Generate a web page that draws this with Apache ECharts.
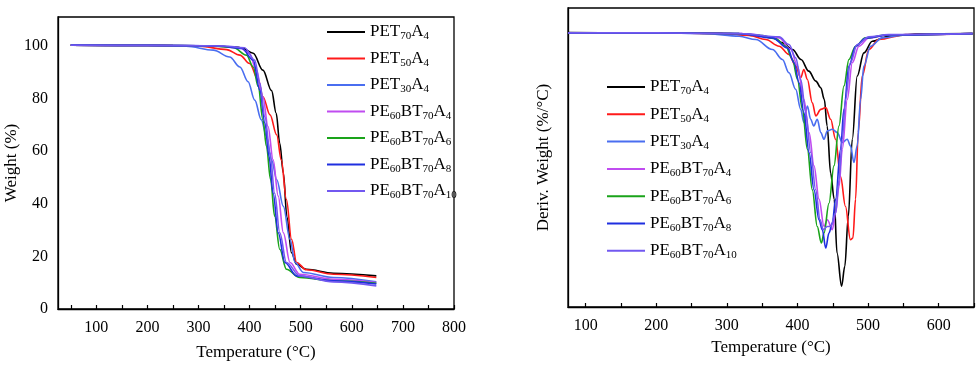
<!DOCTYPE html>
<html>
<head>
<meta charset="utf-8">
<script src="https://cdn.jsdelivr.net/npm/echarts@6/dist/echarts.min.js"></script>
<style>html,body{margin:0;padding:0;background:#fff}#c{width:979px;height:367px}</style>
</head>
<body>
<div id="c"></div>
<script>
// ---------- DATA ----------
const names = ['PET70A4','PET50A4','PET30A4','PE60BT70A4','PE60BT70A6','PE60BT70A8','PE60BT70A10'];
const legendRich = {
  'PET70A4':'PET{s|70}A{s|4}',
  'PET50A4':'PET{s|50}A{s|4}',
  'PET30A4':'PET{s|30}A{s|4}',
  'PE60BT70A4':'PE{s|60}BT{s|70}A{s|4}',
  'PE60BT70A6':'PE{s|60}BT{s|70}A{s|6}',
  'PE60BT70A8':'PE{s|60}BT{s|70}A{s|8}',
  'PE60BT70A10':'PE{s|60}BT{s|70}A{s|10}'
};
const colors = ['#000000','#ff1a1a','#4a6ef0','#c04cf0','#1aa31a','#1f2fe0','#7258f0'];

const tgaTicksX = [50,100,150,200,250,300,350,400,450,500,550,600,650,700,750,800];
const tgaLabelsX = [100,200,300,400,500,600,700,800];
const tgaLabelsY = [0,20,40,60,80,100];
const dtgTicksX = [100,150,200,250,300,350,400,450,500,550,600,650];
const dtgLabelsX = [100,200,300,400,500,600];

// TGA: weight (%) vs temperature
const tga_PET70A4 = [[50,100.3],[150,100.2],[250,100.1],[330,99.9],[370,99.7],[385,99.2],[407,97.2],[426,90.8],[443,83],[452,74.4],[459,63],[466,51.7],[473,35],[482,21.4],[492,17],[511,15.1],[564,13.6],[648,12.6]];
const tga_PET50A4 = [[50,100.3],[200,100.2],[302,99.9],[355,98.6],[381,96.5],[400,93.3],[417,87],[426,80.7],[440,73.8],[453,66.2],[462,56.7],[472,41.6],[482,26.5],[492,17.7],[511,14.9],[564,13.2],[648,12]];
const tga_PET30A4 = [[50,100.3],[200,100.2],[276,99.9],[329,98.4],[361,95.8],[381,92],[397,86.4],[410,79.4],[423,71.9],[433,65.6],[443,56.7],[453,49.2],[466,39],[479,26.5],[489,17.7],[505,13.9],[564,12],[648,10.3]];
const tga_PE60BT70A4 = [[50,100.3],[200,100.2],[330,100],[381,99.3],[400,97.1],[413,90.8],[426,80.7],[436,69.4],[446,56.7],[456,42.9],[466,29],[479,17.7],[498,13.2],[564,11.3],[648,10.1]];
const tga_PE60BT70A6 = [[50,100.3],[200,100.2],[330,100],[368,99.4],[394,96.5],[407,92],[417,84.5],[426,71.9],[433,61.8],[441,49.2],[449,35.3],[459,22.7],[472,15.1],[498,12],[564,10.7],[648,9.8]];
const tga_PE60BT70A8 = [[50,100.3],[200,100.2],[340,100],[385,99],[407,94.6],[420,83.2],[430,70.6],[438,58],[446,44],[456,29],[469,17.7],[492,12.6],[564,10.7],[648,9.5]];
const tga_PE60BT70A10 = [[50,100.3],[200,100.2],[350,100],[390,99.3],[410,94.6],[420,85.8],[430,73],[440,59.3],[449,44],[459,29],[472,17.7],[498,12.6],[564,10.3],[648,8.8]];

// DTG: derivative weight (arbitrary %/°C scale) vs temperature
const dtg_PET70A4 = [[75,0.005],[150,0],[200,0],[294,-0.005],[341,-0.03],[365,-0.06],[379,-0.12],[393,-0.2],[405,-0.32],[416,-0.46],[426,-0.58],[433,-0.66],[438,-0.8],[442,-1.12],[447,-1.69],[452,-2.0],[456,-2.65],[462.5,-3.05],[467,-2.81],[472,-2.21],[477.6,-1.28],[484.6,-0.52],[494,-0.24],[506,-0.1],[529,-0.04],[576,-0.012],[648,-0.008]];
const dtg_PET50A4 = [[75,0],[200,0],[294,-0.008],[332,-0.03],[355,-0.08],[374,-0.16],[388,-0.26],[397.5,-0.4],[404.6,-0.54],[409,-0.44],[414,-0.56],[421,-0.84],[426,-1.0],[433,-0.92],[440,-0.9],[447,-1.04],[454,-1.28],[461,-1.73],[468,-2.09],[475,-2.49],[478.5,-2.47],[482.3,-2.0],[486,-1.2],[491.7,-0.52],[501,-0.2],[515,-0.08],[553,-0.02],[648,-0.008]];
const dtg_PET30A4 = [[75,0],[200,0],[270,-0.008],[317.5,-0.04],[341,-0.08],[364.6,-0.2],[378.7,-0.32],[388,-0.48],[397.5,-0.68],[404.6,-0.92],[409,-1.08],[414,-0.88],[418.7,-1.04],[423,-1.12],[428,-1.04],[433,-1.2],[437.6,-1.28],[442.3,-1.18],[449.3,-1.16],[456.4,-1.2],[463.5,-1.32],[470.5,-1.28],[475,-1.36],[480,-1.56],[484.6,-1.36],[489.4,-0.8],[494,-0.4],[503.5,-0.16],[520,-0.06],[553,-0.02],[648,-0.008]];
const dtg_PE60BT70A4 = [[75,0],[200,0],[322,-0.008],[374,-0.06],[390.5,-0.2],[400,-0.4],[409,-0.8],[416.4,-1.2],[423.4,-1.6],[430.5,-2.0],[437.6,-2.33],[442.3,-2.25],[449.3,-2.37],[454,-2.17],[458.8,-1.85],[463.5,-1.4],[470.5,-0.8],[477.6,-0.36],[487,-0.16],[501,-0.06],[529,-0.024],[648,-0.008]];
const dtg_PE60BT70A6 = [[75,0],[200,0],[317.5,-0.008],[350.5,-0.032],[369.3,-0.072],[383.4,-0.16],[393,-0.32],[400,-0.56],[407,-0.92],[414,-1.4],[421,-1.89],[428,-2.33],[433.8,-2.53],[437.6,-2.41],[444.6,-2.05],[451.7,-1.6],[458.8,-1.12],[465.8,-0.64],[472.9,-0.32],[482.3,-0.16],[496.4,-0.06],[529,-0.024],[648,-0.008]];
const dtg_PE60BT70A8 = [[75,0],[200,0],[317.5,-0.008],[364.6,-0.06],[385.8,-0.18],[395.2,-0.36],[402.3,-0.6],[409,-0.96],[416.4,-1.44],[423.4,-1.89],[430.5,-2.25],[435.2,-2.37],[440,-2.59],[444.6,-2.41],[449.3,-2.29],[454,-2.0],[461,-1.4],[465.8,-0.92],[472.9,-0.4],[482.3,-0.16],[496.4,-0.064],[529,-0.024],[648,-0.008]];
const dtg_PE60BT70A10 = [[75,0],[200,0],[322,-0.008],[374,-0.048],[388,-0.14],[397.5,-0.3],[404.6,-0.56],[411.7,-0.96],[418.7,-1.44],[425.8,-1.89],[432,-2.25],[436.6,-2.37],[442.3,-2.33],[447,-2.33],[454,-2.17],[458.8,-1.77],[463.5,-1.28],[468,-0.8],[475,-0.36],[484.6,-0.14],[501,-0.048],[529,-0.02],[648,-0.008]];

const tgaData = [tga_PET70A4,tga_PET50A4,tga_PET30A4,tga_PE60BT70A4,tga_PE60BT70A6,tga_PE60BT70A8,tga_PE60BT70A10];
const dtgData = [dtg_PET70A4,dtg_PET50A4,dtg_PET30A4,dtg_PE60BT70A4,dtg_PE60BT70A6,dtg_PE60BT70A8,dtg_PE60BT70A10];

// ---------- CHART ----------
const FONT = 'Liberation Serif';
const chart = echarts.init(document.getElementById('c'), null, {renderer:'canvas'});
const axisLine = {show:true, onZero:false, lineStyle:{color:'#000', width:1.3}};
const labelStyle = {fontFamily:FONT, fontSize:16, color:'#000'};
const nameStyle = {fontFamily:FONT, fontSize:17, color:'#000'};

function legendCfg(left, top, gap){
  return {
    orient:'vertical', left:left, top:top, itemGap:gap, itemWidth:38, itemHeight:2,
    padding:0, icon:'rect',
    data:names, selectedMode:false,
    formatter: n => legendRich[n],
    textStyle:{fontFamily:FONT, fontSize:17, color:'#000', lineHeight:20,
      rich:{s:{fontFamily:FONT, fontSize:11, lineHeight:20, verticalAlign:'bottom', color:'#000'}}}
  };
}

const series = [];
names.forEach((n,i)=>{
  series.push({name:n, type:'line', xAxisIndex:0, yAxisIndex:0, data:tgaData[i], symbol:'none',
    smooth:0.35, smoothMonotone:'x', color:colors[i], lineStyle:{width:1.6, color:colors[i]}, animation:false});
});
names.forEach((n,i)=>{
  series.push({name:n, type:'line', xAxisIndex:1, yAxisIndex:1, data:dtgData[i], symbol:'none',
    smooth:0.35, smoothMonotone:'x', color:colors[i], lineStyle:{width:1.6, color:colors[i]}, animation:false});
});

chart.setOption({
  backgroundColor:'#fff',
  animation:false,
  grid:[
    {left:58, top:17, width:396, height:292, show:true, borderColor:'#000', borderWidth:1.3, containLabel:false},
    {left:568, top:8, width:406, height:299, show:true, borderColor:'#000', borderWidth:1.3, containLabel:false}
  ],
  legend:[legendCfg(327, 22, 6.5), legendCfg(607, 77, 7.3)],
  xAxis:[
    {type:'value', gridIndex:0, min:25, max:800,
     name:'Temperature (°C)', nameLocation:'middle', nameGap:35, nameTextStyle:nameStyle,
     axisLine:axisLine, splitLine:{show:false},
     axisTick:{show:true, inside:true, length:4, customValues:tgaTicksX, lineStyle:{color:'#000', width:1.2}},
     axisLabel:{show:true, margin:11, customValues:tgaLabelsX, ...labelStyle}},
    {type:'value', gridIndex:1, min:75, max:650,
     name:'Temperature (°C)', nameLocation:'middle', nameGap:32, nameTextStyle:nameStyle,
     axisLine:axisLine, splitLine:{show:false},
     axisTick:{show:true, inside:true, length:4, customValues:dtgTicksX, lineStyle:{color:'#000', width:1.2}},
     axisLabel:{show:true, margin:11, customValues:dtgLabelsX, ...labelStyle}}
  ],
  yAxis:[
    {type:'value', gridIndex:0, min:0, max:111,
     name:'Weight (%)', nameLocation:'middle', nameGap:33, nameTextStyle:nameStyle,
     axisLine:axisLine, splitLine:{show:false},
     axisTick:{show:false},
     axisLabel:{show:true, margin:10, customValues:tgaLabelsY, ...labelStyle}},
    {type:'value', gridIndex:1, min:-3.3, max:0.3,
     name:'Deriv. Weight (%/°C)', nameLocation:'middle', nameGap:16, nameTextStyle:nameStyle,
     axisLine:axisLine, splitLine:{show:false},
     axisTick:{show:false}, axisLabel:{show:false}}
  ],
  series:series
});
</script>
</body>
</html>
